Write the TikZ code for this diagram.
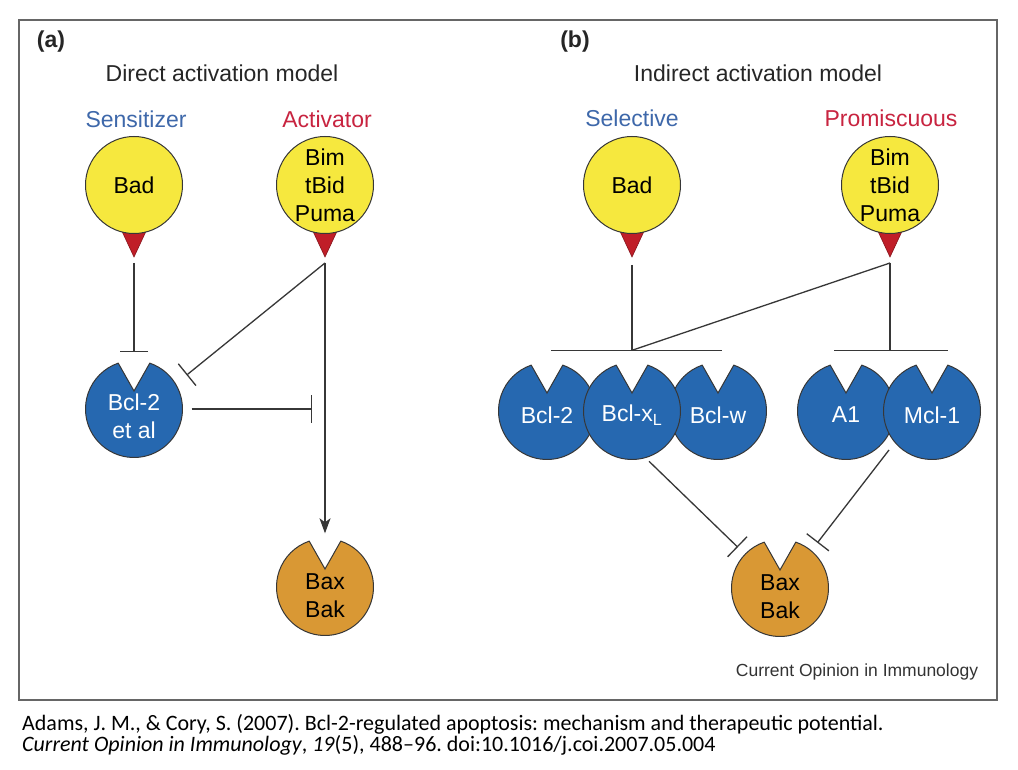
\documentclass[tikz,border=0pt]{standalone}
\usepackage{fontspec}
\setmainfont{Liberation Sans}
\newfontfamily\capfont{Carlito}
\usetikzlibrary{positioning,calc,arrows.meta,backgrounds}
\definecolor{ligyellow}{RGB}{246,232,62}
\definecolor{tipred}{RGB}{192,30,40}
\definecolor{protblue}{RGB}{38,104,176}
\definecolor{baxorange}{RGB}{217,152,52}
\definecolor{headblue}{RGB}{62,104,170}
\definecolor{headred}{RGB}{200,36,64}
\definecolor{linegrey}{RGB}{55,55,55}
\newcommand\protfont{\fontsize{23}{28}\selectfont}
\frenchspacing

\begin{document}
\begin{tikzpicture}[x=1pt,y=1pt,
    ligand/.style={circle,fill=ligyellow,draw=linegrey,line width=1pt,minimum size=97pt,inner sep=0pt,align=center,font=\protfont},
    pocket/.style={circle,minimum size=97pt,inner sep=0pt},
    pockettext/.style={text=white,align=center,font=\protfont,yshift=-4pt},
    heading/.style={font=\protfont,text=black!85},
    link/.style={linegrey,line width=1.3pt},
    inhibit/.style={link,-{Bar[width=28pt,line width=1.3pt]}},
    activate/.style={link,-{Stealth[length=15pt,width=11pt,inset=4pt]}}
  ]
  \begin{scope}[on background layer]
    \fill[white] (0,0) rectangle (1018,-770);
  \end{scope}
  \useasboundingbox (0,0) rectangle (1018,-770);
  \draw[black!60,line width=1.2pt] (19,-20) rectangle (997,-700);

  % panel (a): direct activation
  \node[heading,font=\protfont\bfseries] (labA) at (51,-42) {(a)};
  \node[heading] (titleA) at (222,-73) {Direct activation model};
  \node[heading,text=headblue] (sensA) at (136,-119) {Sensitizer};
  \node[heading,text=headred] (actvA) at (327,-119) {Activator};
  \node[ligand] (badA) at (134,-185) {Bad};
  \node[ligand] (actA) at (325,-185) {Bim\\tBid\\Puma};
  \node[pocket,label={[pockettext,yshift=-3pt]center:{Bcl-2\\et al}}] (bcl2A) at (134,-409) {};
  \node[pocket,label={[pockettext,text=black,yshift=-5pt]center:{Bax\\Bak}}] (baxA) at (325,-587) {};

  \coordinate (actJ) at ($(actA.south)+(0,-29)$);
  \draw[inhibit,shorten <=29pt,shorten >=8pt] (badA) -- (bcl2A);
  \draw[activate,shorten >=5pt] (actJ) -- (baxA);
  \draw[inhibit,shorten >=14pt] (actJ) -- (bcl2A.31);
  \draw[inhibit,shorten <=9pt,shorten >=13pt] (bcl2A.east) -- (bcl2A -| actJ);

  % panel (b): indirect activation
  \node[heading,font=\protfont\bfseries] (labB) at (575,-42) {(b)};
  \node[heading] (titleB) at (758,-73) {Indirect activation model};
  \node[heading,text=headblue] (selB) at (632,-118) {Selective};
  \node[heading,text=headred] (proB) at (891,-118) {Promiscuous};
  \node[ligand] (badB) at (632,-185) {Bad};
  \node[ligand] (promB) at (890,-185) {Bim\\tBid\\Puma};
  \node[pocket,label={[pockettext]center:Bcl-2}] (bcl2B) at (547,-411) {};
  \node[pocket,label={[pockettext]center:Bcl-x\textsubscript{L}}] (bclxl) at (632,-411) {};
  \node[pocket,label={[pockettext]center:Bcl-w}] (bclw) at (718,-411) {};
  \node[pocket,label={[pockettext]center:A1}] (a1) at (846,-411) {};
  \node[pocket,label={[pockettext]center:Mcl-1}] (mcl1) at (932,-411) {};
  \node[pocket,label={[pockettext,text=black,yshift=-5pt]center:{Bax\\Bak}}] (baxB) at (780,-588) {};

  \coordinate (badJ) at ($(badB.south)+(0,-31)$);
  \coordinate (promJ) at ($(promB.south)+(0,-29)$);
  \coordinate (selT) at ($(badJ |- bclxl.north)+(0,12)$);
  \coordinate (proT) at (promJ |- selT);
  \coordinate (mclJ) at ($(a1)!0.5!(mcl1)+(0,-39)$);
  \draw[link] (badJ) -- (selT);
  \draw[link] (promJ) -- (selT);
  \draw[link] (promJ) -- (proT);
  \draw[link] ($(selT)+(-81,0)$) -- ($(selT)+(90,0)$);
  \draw[link] ($(proT)+(-56,0)$) -- ($(proT)+(58,0)$);
  \draw[inhibit,shorten <=5pt,shorten >=10pt] (bclxl.-74) -- (baxB.136);
  \draw[inhibit,shorten >=10pt] (mclJ) -- (baxB.50);

  % notched receptors and red tips behind the nodes
  \begin{scope}[on background layer]
    \foreach \p/\c in {bcl2A/protblue,baxA/baxorange,bcl2B/protblue,bclw/protblue,bclxl/protblue,a1/protblue,mcl1/protblue,baxB/baxorange}
      \filldraw[fill=\c,draw=linegrey,line width=1pt] (\p.center) +(71:48.5) arc[start angle=71,end angle=-251,radius=48.5] -- ($(\p.center)+(0,18)$) -- cycle;
    \foreach \l in {badA,actA,badB,promB}
      \filldraw[fill=tipred,draw=tipred!70!black,line width=0.6pt] ($(\l.center)+(-14,-42)$) -- ($(\l.center)+(14,-42)$) -- ($(\l.center)+(0,-72)$) -- cycle;
  \end{scope}

  \node[font=\fontsize{17.5}{20}\selectfont,text=black!80] (journal) at (857,-672) {Current Opinion in Immunology};
  \node[anchor=west,align=left,inner sep=0pt,font=\capfont\fontsize{22}{21}\selectfont] (cite) at (22,-735) {Adams, J. M., \& Cory, S. (2007). Bcl-2-regulated apoptosis: mechanism and therapeutic potential.\\\textit{Current Opinion in Immunology}, \textit{19}(5), 488–96. doi:10.1016/j.coi.2007.05.004};
\end{tikzpicture}
\end{document}
